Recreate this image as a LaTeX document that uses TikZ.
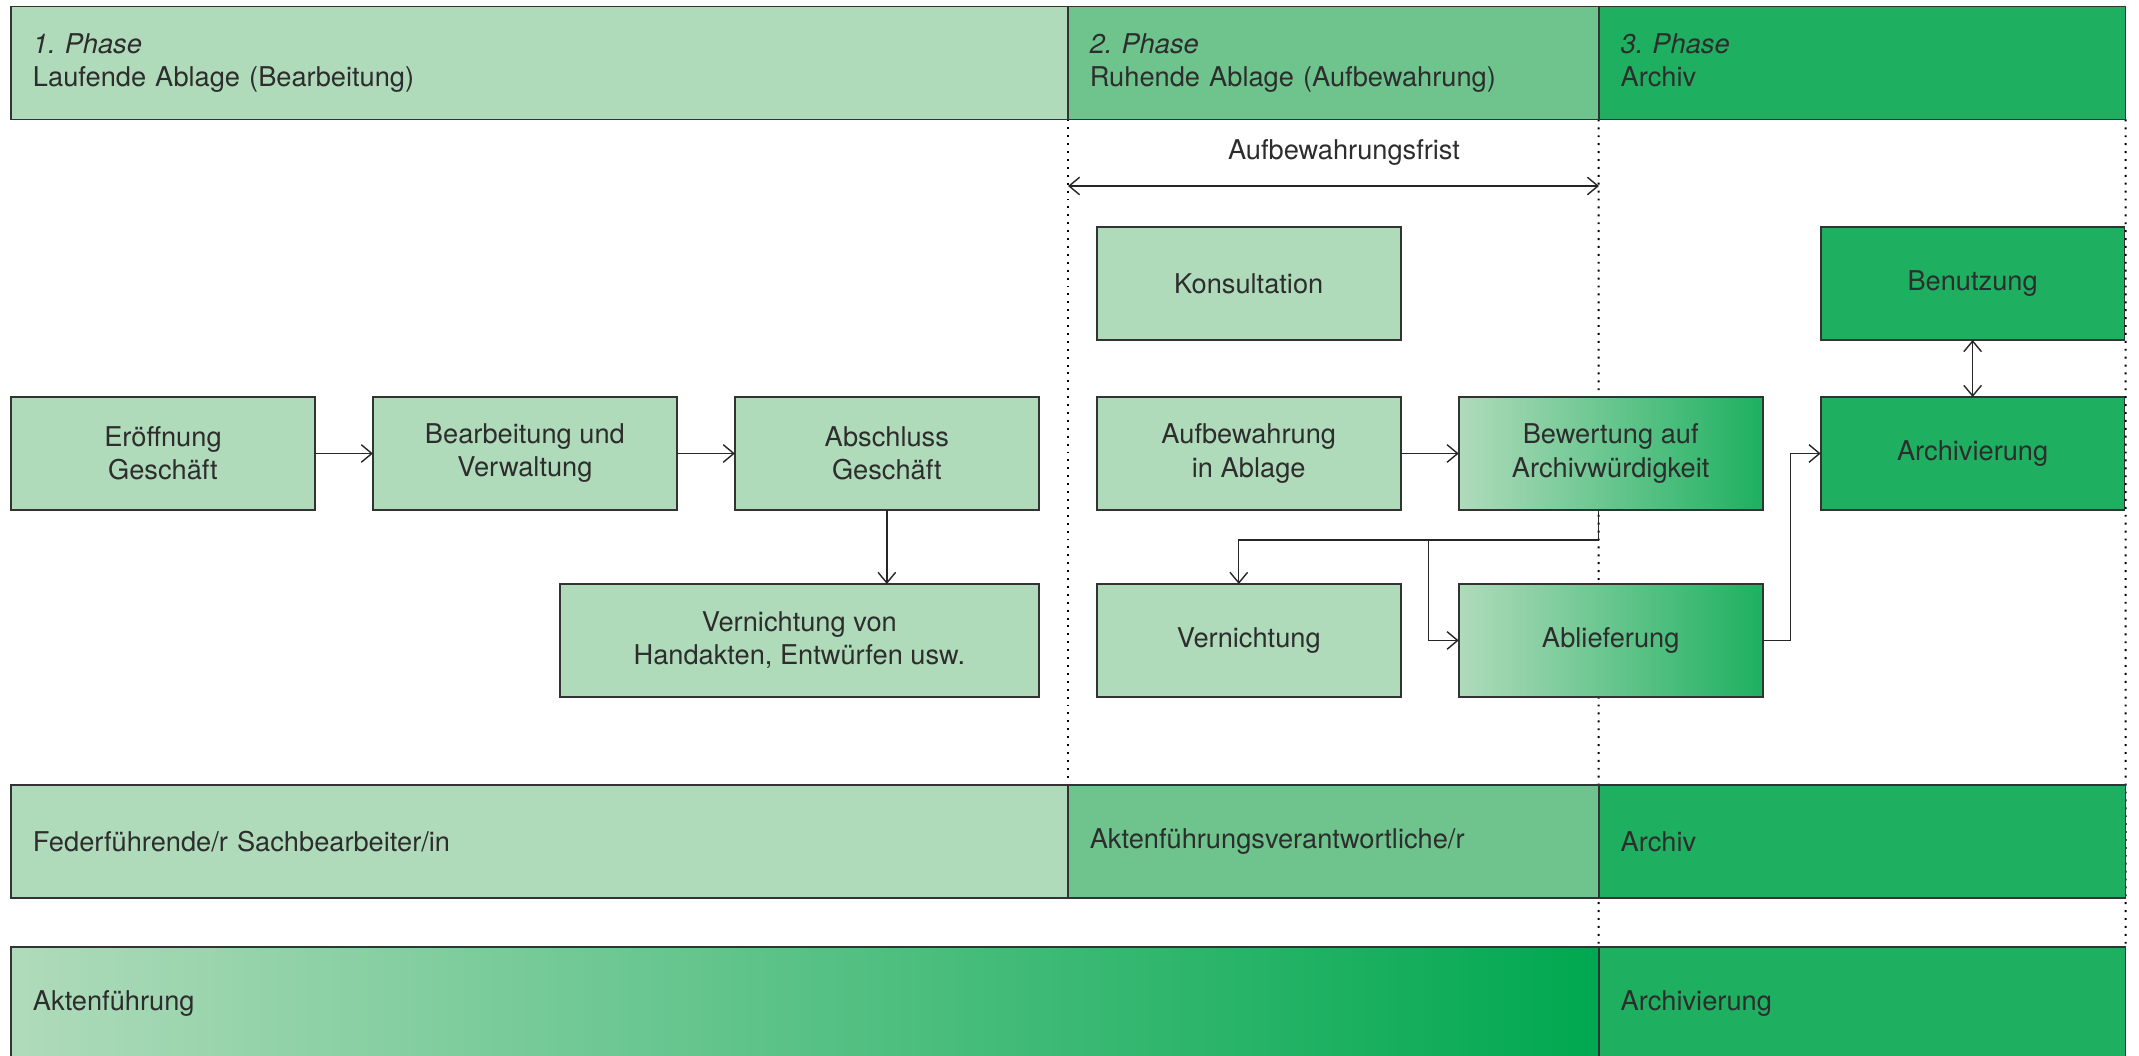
\documentclass[tikz,border=0pt]{standalone}
\usepackage{fontspec}
\setmainfont{TeX Gyre Heros}
\usetikzlibrary{positioning,arrows.meta,backgrounds}

\definecolor{phaseA}{RGB}{176,219,187}
\definecolor{phaseB}{RGB}{111,196,142}
\definecolor{phaseC}{RGB}{30,176,96}
\definecolor{deepgreen}{RGB}{0,168,80}
\definecolor{textgray}{RGB}{45,45,45}

\begin{document}
\frenchspacing
\begin{tikzpicture}[x=0.02cm,y=-0.02cm,node distance=1.48cm and 1.16cm]
\tikzstyle{every node}=[font=\fontsize{15.5pt}{18.8pt}\selectfont,text=textgray];
\tikzstyle{band}=[rectangle,draw=black!80,line width=1pt,outer sep=0pt,minimum height=2.26cm,inner xsep=0.44cm,inner ysep=0pt,align=left];
\tikzstyle{box}=[rectangle,draw=black!80,line width=1pt,outer sep=0pt,minimum width=6.08cm,minimum height=2.26cm,align=center,fill=phaseA];
\tikzstyle{flow}=[black!85,line width=0.8pt,-{Straight Barb[length=6pt,width=10pt]}];
\tikzstyle{biflow}=[black!85,line width=0.8pt,{Straight Barb[length=6pt,width=10pt]}-{Straight Barb[length=6pt,width=10pt]}];
\tikzstyle{phaseline}=[black,line width=1.1pt,dash pattern=on 1.1pt off 3.4pt];

\useasboundingbox (0,0) rectangle (2139,1055);

% phases
\node[band,fill=phaseA,text width=20.26cm,anchor=west] (p1) at (11,63) {\textit{1. Phase}\strut\\Laufende Ablage (Bearbeitung)\strut};
\node[band,fill=phaseB,text width=9.74cm,right=0pt of p1] (p2) {\textit{2. Phase}\strut\\Ruhende Ablage (Aufbewahrung)\strut};
\node[band,fill=phaseC,text width=9.66cm,right=0pt of p2] (p3) {\textit{3. Phase}\strut\\Archiv\strut};

\node (frist) at (1344,152) {Aufbewahrungsfrist};
\coordinate (fristL) at (1068,186);
\coordinate (fristR) at (1599,186);
\draw[biflow] (fristL) -- (fristR);

% process
\node[box,anchor=north west] (eroeff) at (11,397) {Eröffnung\\Geschäft};
\node[box,right=of eroeff] (bearb) {Bearbeitung und\\Verwaltung};
\node[box,right=of bearb] (abschl) {Abschluss\\Geschäft};
\node[box,right=of abschl] (aufbew) {Aufbewahrung\\in Ablage};
\node[box,left color=phaseA,right color=phaseC,right=of aufbew] (bewert) {Bewertung auf\\Archivwürdigkeit};
\node[box,fill=phaseC,right=of bewert] (archiv) {Archivierung};
\node[box,above=1.14cm of aufbew] (konsult) {Konsultation};
\node[box,fill=phaseC,above=1.14cm of archiv] (benutz) {Benutzung};
\node[box,below=of aufbew] (vernicht) {Vernichtung};
\node[box,left color=phaseA,right color=phaseC,below=of bewert] (abliefer) {Ablieferung};
\node[box,minimum width=9.58cm,below=of abschl.south east,anchor=north east] (handakt) {Vernichtung von\\Handakten, Entwürfen usw.};

% roles
\node[band,fill=phaseA,text width=20.26cm,anchor=north west] (fed) at (11,785) {Federführende/r Sachbearbeiter/in};
\node[band,fill=phaseB,text width=9.74cm,right=0pt of fed] (akv) {Aktenführungsverantwortliche/r};
\node[band,fill=phaseC,text width=9.66cm,right=0pt of akv] (arch) {Archiv};

\node[band,left color=phaseA,right color=deepgreen,text width=30.88cm,anchor=north west] (akt) at (11,947) {Aktenführung};
\node[band,fill=phaseC,text width=9.66cm,right=0pt of akt] (archvg) {Archivierung};

\begin{scope}[on background layer]
\draw[phaseline] (p2.south west) -- (akv.north west);
\draw[phaseline] (p3.south west) -- (archvg.north west);
\draw[phaseline] (p3.south east) -- (archvg.north east);
\end{scope}

% connectors
\draw[flow] (eroeff) -- (bearb);
\draw[flow] (bearb) -- (abschl);
\draw[flow] (abschl.south) -- (abschl.south |- handakt.north);
\draw[flow] (aufbew) -- (bewert);
\draw[flow] (bewert.south -| p3.south west) -- ++(0,-0.6cm) coordinate (split) -| ([xshift=-0.2cm]vernicht.north);
\coordinate (branch) at (split -| abliefer.west);
\draw[flow] ([xshift=-0.6cm]branch) |- (abliefer.west);
\draw[flow] (abliefer.east) -- ++(0.56cm,0) |- (archiv.west);
\draw[biflow] (benutz) -- (archiv);
\end{tikzpicture}
\end{document}
